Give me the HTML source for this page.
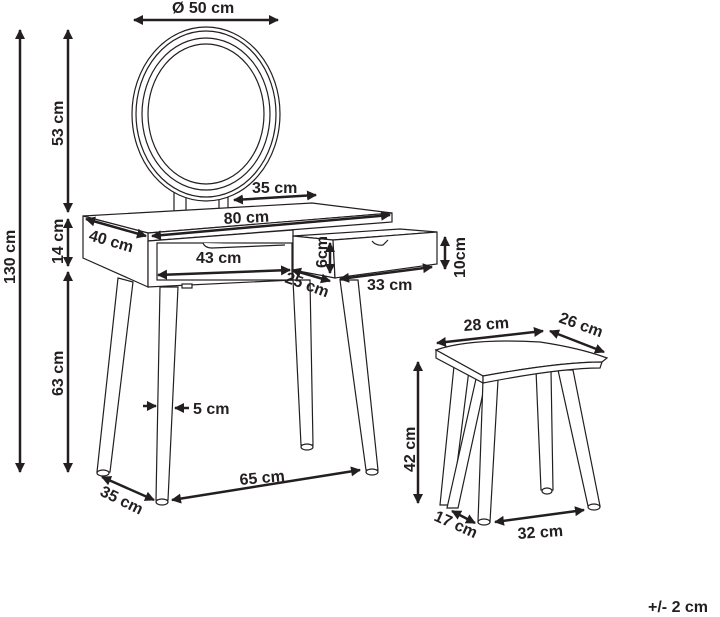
<!DOCTYPE html>
<html><head><style>
html,body{margin:0;padding:0;background:#fff;}
svg{display:block;}
text{font-family:"Liberation Sans",sans-serif;font-weight:bold;font-size:16px;fill:#231f20;}
</style></head><body>
<svg width="720" height="617" viewBox="0 0 720 617" xmlns="http://www.w3.org/2000/svg">
<defs>
<marker id="a" viewBox="0 0 10 10" refX="9" refY="5" markerWidth="4" markerHeight="4" orient="auto-start-reverse"><path d="M0,0 L10,5 L0,10 z" fill="#231f20"/></marker>
</defs>
<g stroke="#231f20" stroke-width="1.2" fill="#fff">
<rect x="174" y="190" width="12" height="25"/>
<rect x="219" y="190" width="9" height="25"/>
<ellipse cx="206" cy="114" rx="74" ry="87"/>
<ellipse cx="206" cy="114" rx="70" ry="83"/>
<ellipse cx="206" cy="114" rx="64" ry="76"/>
<ellipse cx="206" cy="114" rx="58" ry="70"/>
<polygon points="118,278 133,282 110,472 97,472"/>
<ellipse cx="103" cy="473" rx="6" ry="3"/>
<polygon points="293,280 310,280 313,445 301,445"/>
<ellipse cx="307" cy="447" rx="6" ry="3"/>
<polygon points="340,280 358,280 378,470 366,470"/>
<ellipse cx="372" cy="472" rx="6" ry="3"/>
<polygon points="83,216 312,203 392,213 148,233"/>
<polygon points="148,233 392,213 392,222 148,241"/>
<polygon points="83,216 148,233 148,287 83,258"/>
<polygon points="148,241 293,230 293,280 148,287"/>
<rect x="157" y="243" width="135" height="37"/>
<path d="M203,243 Q205,248 212,248 L285,245"/>
<rect x="182" y="284" width="10" height="4"/>
<polygon points="293,236 400,229 437,232 333,240"/>
<polygon points="293,236 333,240 335,278 293,270"/>
<polygon points="333,240 437,232 437,264 335,278"/>
<path d="M372,241 Q376,246 383,245 L388,240"/>
<polygon points="160,287 178,287 168,500 156,500"/>
<ellipse cx="162" cy="502" rx="6" ry="3"/>
<polygon points="454,366 469,370 452,505 440,505"/>
<polygon points="478,370 488,370 458,508 447,508"/>
<polygon points="536,370 551,370 553,490 541,490"/>
<ellipse cx="547" cy="491" rx="5" ry="3"/>
<polygon points="558,370 573,370 600,506 588,506"/>
<polygon points="483,380 498,380 490,522 478,522"/>
<ellipse cx="484" cy="522" rx="6" ry="3"/>
<ellipse cx="594" cy="507" rx="6" ry="3"/>
<path d="M436,350 Q470,338 540,342 Q580,348 607,358 L602,362 Q560,362 483,376 Z"/>
<path d="M436,350 L483,376 L483,383 L436,358 Z"/>
<path d="M483,376 Q560,362 602,362 L600,368 Q560,368 483,383 Z"/>
</g>
<g stroke="#231f20" stroke-width="2.5" fill="none" marker-start="url(#a)" marker-end="url(#a)">
<line x1="134" y1="20" x2="278" y2="20"/>
<line x1="20" y1="30" x2="20" y2="472"/>
<line x1="68" y1="30" x2="68" y2="212"/>
<line x1="68" y1="219" x2="68" y2="266"/>
<line x1="68" y1="272" x2="68" y2="472"/>
<line x1="234" y1="200" x2="316" y2="195"/>
<line x1="152" y1="236" x2="390" y2="215"/>
<line x1="86" y1="219" x2="146" y2="236"/>
<line x1="158" y1="275" x2="290" y2="270"/>
<line x1="292" y1="270" x2="330" y2="281"/>
<line x1="330" y1="243" x2="330" y2="273"/>
<line x1="340" y1="279" x2="432" y2="267"/>
<line x1="445" y1="237" x2="445" y2="269"/>
<line x1="102" y1="477" x2="154" y2="500"/>
<line x1="172" y1="500" x2="360" y2="470"/>
<line x1="418" y1="362" x2="418" y2="503"/>
<line x1="437" y1="343" x2="543" y2="331"/>
<line x1="550" y1="331" x2="604" y2="352"/>
<line x1="452" y1="511" x2="475" y2="523"/>
<line x1="495" y1="522" x2="584" y2="510"/>
</g>
<g stroke="#231f20" stroke-width="2.5" fill="none" marker-end="url(#a)">
<line x1="143" y1="406" x2="156" y2="406"/>
<line x1="189" y1="408" x2="175" y2="408"/>
</g>
<text x="172" y="13">Ø 50 cm</text>
<text x="252" y="193">35 cm</text>
<text x="224" y="224" transform="rotate(-3 224 224)">80 cm</text>
<text x="88" y="240" transform="rotate(16 88 240)">40 cm</text>
<text x="196" y="263">43 cm</text>
<text x="284" y="282" transform="rotate(20 284 282)">25 cm</text>
<text x="327" y="268" transform="rotate(-90 327 268)">6cm</text>
<text x="367" y="290">33 cm</text>
<text x="465" y="278" transform="rotate(-90 465 278)">10cm</text>
<text x="193" y="414">5 cm</text>
<text x="240" y="485" transform="rotate(-5 240 485)">65 cm</text>
<text x="99" y="495" transform="rotate(26 99 495)">35 cm</text>
<text x="15" y="284" transform="rotate(-90 15 284)">130 cm</text>
<text x="63" y="146" transform="rotate(-90 63 146)">53 cm</text>
<text x="63" y="264" transform="rotate(-90 63 264)">14 cm</text>
<text x="63" y="396" transform="rotate(-90 63 396)">63 cm</text>
<text x="464" y="331" transform="rotate(-4 464 331)">28 cm</text>
<text x="558" y="322" transform="rotate(20 558 322)">26 cm</text>
<text x="415" y="472" transform="rotate(-90 415 472)">42 cm</text>
<text x="433" y="520" transform="rotate(24 433 520)">17 cm</text>
<text x="518" y="539" transform="rotate(-4 518 539)">32 cm</text>
<text x="648" y="612">+/- 2 cm</text>
</svg>
</body></html>
